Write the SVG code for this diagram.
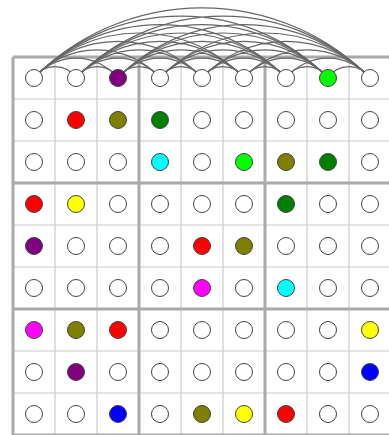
<svg xmlns="http://www.w3.org/2000/svg" width="389" height="435" viewBox="0 0 389 435">
<style>
.thin{stroke:#cccccc;stroke-width:1.2;fill:none}
.thick{stroke:#aaaaaa;stroke-width:3;fill:none}
.arc{stroke:#666666;stroke-width:1.2;fill:none}
.n{stroke:#444;stroke-width:1;fill:#fff}
</style>
<rect width="389" height="435" fill="#fff"/>
<g id="grid">
<path class="thin" d="M55 57V435M97 57V435M181 57V435M223 57V435M307 57V435M349 57V435M13 99H391M13 141H391M13 225H391M13 267H391M13 351H391M13 393H391"/>
<path class="thick" d="M13 57V435M139 57V435M265 57V435M391 57V435M13 57H391M13 183H391M13 309H391M13 435H391"/>
</g>
<g id="connectors">
<path class="arc" d="M34 78A25.04 25.04 0 0 1 76 78M76 78A25.04 25.04 0 0 1 118 78M118 78A25.04 25.04 0 0 1 160 78M160 78A25.04 25.04 0 0 1 202 78M202 78A25.04 25.04 0 0 1 244 78M244 78A25.04 25.04 0 0 1 286 78M286 78A25.04 25.04 0 0 1 328 78M328 78A25.04 25.04 0 0 1 370 78"/>
<path class="arc" d="M34 78A54.45 54.45 0 0 1 118 78M76 78A54.45 54.45 0 0 1 160 78M118 78A54.45 54.45 0 0 1 202 78M160 78A54.45 54.45 0 0 1 244 78M202 78A54.45 54.45 0 0 1 286 78M244 78A54.45 54.45 0 0 1 328 78M286 78A54.45 54.45 0 0 1 370 78"/>
<path class="arc" d="M34 78A84.47 84.47 0 0 1 160 78M76 78A84.47 84.47 0 0 1 202 78M118 78A84.47 84.47 0 0 1 244 78M160 78A84.47 84.47 0 0 1 286 78M202 78A84.47 84.47 0 0 1 328 78M244 78A84.47 84.47 0 0 1 370 78"/>
<path class="arc" d="M34 78A114.69 114.69 0 0 1 202 78M76 78A114.69 114.69 0 0 1 244 78M118 78A114.69 114.69 0 0 1 286 78M160 78A114.69 114.69 0 0 1 328 78M202 78A114.69 114.69 0 0 1 370 78"/>
<path class="arc" d="M34 78A145 145 0 0 1 244 78M76 78A145 145 0 0 1 286 78M118 78A145 145 0 0 1 328 78M160 78A145 145 0 0 1 370 78"/>
<path class="arc" d="M34 78A175.35 175.35 0 0 1 286 78M76 78A175.35 175.35 0 0 1 328 78M118 78A175.35 175.35 0 0 1 370 78"/>
<path class="arc" d="M34 78A205.73 205.73 0 0 1 328 78M76 78A205.73 205.73 0 0 1 370 78"/>
<path class="arc" d="M34 78A236.13 236.13 0 0 1 370 78"/>
</g>
<g id="nodes">
<g id="n00"><circle class="n" cx="34" cy="78" r="8.5"/></g>
<g id="n01"><circle class="n" cx="76" cy="78" r="8.5"/></g>
<g id="n02"><circle class="n" cx="118" cy="78" r="8.5" style="fill:#800080"/></g>
<g id="n03"><circle class="n" cx="160" cy="78" r="8.5"/></g>
<g id="n04"><circle class="n" cx="202" cy="78" r="8.5"/></g>
<g id="n05"><circle class="n" cx="244" cy="78" r="8.5"/></g>
<g id="n06"><circle class="n" cx="286" cy="78" r="8.5"/></g>
<g id="n07"><circle class="n" cx="328" cy="78" r="8.5" style="fill:#00ff00"/></g>
<g id="n08"><circle class="n" cx="370" cy="78" r="8.5"/></g>

<g id="n10"><circle class="n" cx="34" cy="120" r="8.5"/></g>
<g id="n11"><circle class="n" cx="76" cy="120" r="8.5" style="fill:#ff0000"/></g>
<g id="n12"><circle class="n" cx="118" cy="120" r="8.5" style="fill:#808000"/></g>
<g id="n13"><circle class="n" cx="160" cy="120" r="8.5" style="fill:#008000"/></g>
<g id="n14"><circle class="n" cx="202" cy="120" r="8.5"/></g>
<g id="n15"><circle class="n" cx="244" cy="120" r="8.5"/></g>
<g id="n16"><circle class="n" cx="286" cy="120" r="8.5"/></g>
<g id="n17"><circle class="n" cx="328" cy="120" r="8.5"/></g>
<g id="n18"><circle class="n" cx="370" cy="120" r="8.5"/></g>

<g id="n20"><circle class="n" cx="34" cy="162" r="8.5"/></g>
<g id="n21"><circle class="n" cx="76" cy="162" r="8.5"/></g>
<g id="n22"><circle class="n" cx="118" cy="162" r="8.5"/></g>
<g id="n23"><circle class="n" cx="160" cy="162" r="8.5" style="fill:#00ffff"/></g>
<g id="n24"><circle class="n" cx="202" cy="162" r="8.5"/></g>
<g id="n25"><circle class="n" cx="244" cy="162" r="8.5" style="fill:#00ff00"/></g>
<g id="n26"><circle class="n" cx="286" cy="162" r="8.5" style="fill:#808000"/></g>
<g id="n27"><circle class="n" cx="328" cy="162" r="8.5" style="fill:#008000"/></g>
<g id="n28"><circle class="n" cx="370" cy="162" r="8.5"/></g>

<g id="n30"><circle class="n" cx="34" cy="204" r="8.5" style="fill:#ff0000"/></g>
<g id="n31"><circle class="n" cx="76" cy="204" r="8.5" style="fill:#ffff00"/></g>
<g id="n32"><circle class="n" cx="118" cy="204" r="8.5"/></g>
<g id="n33"><circle class="n" cx="160" cy="204" r="8.5"/></g>
<g id="n34"><circle class="n" cx="202" cy="204" r="8.5"/></g>
<g id="n35"><circle class="n" cx="244" cy="204" r="8.5"/></g>
<g id="n36"><circle class="n" cx="286" cy="204" r="8.5" style="fill:#008000"/></g>
<g id="n37"><circle class="n" cx="328" cy="204" r="8.5"/></g>
<g id="n38"><circle class="n" cx="370" cy="204" r="8.5"/></g>

<g id="n40"><circle class="n" cx="34" cy="246" r="8.5" style="fill:#800080"/></g>
<g id="n41"><circle class="n" cx="76" cy="246" r="8.5"/></g>
<g id="n42"><circle class="n" cx="118" cy="246" r="8.5"/></g>
<g id="n43"><circle class="n" cx="160" cy="246" r="8.5"/></g>
<g id="n44"><circle class="n" cx="202" cy="246" r="8.5" style="fill:#ff0000"/></g>
<g id="n45"><circle class="n" cx="244" cy="246" r="8.5" style="fill:#808000"/></g>
<g id="n46"><circle class="n" cx="286" cy="246" r="8.5"/></g>
<g id="n47"><circle class="n" cx="328" cy="246" r="8.5"/></g>
<g id="n48"><circle class="n" cx="370" cy="246" r="8.5"/></g>

<g id="n50"><circle class="n" cx="34" cy="288" r="8.5"/></g>
<g id="n51"><circle class="n" cx="76" cy="288" r="8.5"/></g>
<g id="n52"><circle class="n" cx="118" cy="288" r="8.5"/></g>
<g id="n53"><circle class="n" cx="160" cy="288" r="8.5"/></g>
<g id="n54"><circle class="n" cx="202" cy="288" r="8.5" style="fill:#ff00ff"/></g>
<g id="n55"><circle class="n" cx="244" cy="288" r="8.5"/></g>
<g id="n56"><circle class="n" cx="286" cy="288" r="8.5" style="fill:#00ffff"/></g>
<g id="n57"><circle class="n" cx="328" cy="288" r="8.5"/></g>
<g id="n58"><circle class="n" cx="370" cy="288" r="8.5"/></g>

<g id="n60"><circle class="n" cx="34" cy="330" r="8.5" style="fill:#ff00ff"/></g>
<g id="n61"><circle class="n" cx="76" cy="330" r="8.5" style="fill:#808000"/></g>
<g id="n62"><circle class="n" cx="118" cy="330" r="8.5" style="fill:#ff0000"/></g>
<g id="n63"><circle class="n" cx="160" cy="330" r="8.5"/></g>
<g id="n64"><circle class="n" cx="202" cy="330" r="8.5"/></g>
<g id="n65"><circle class="n" cx="244" cy="330" r="8.5"/></g>
<g id="n66"><circle class="n" cx="286" cy="330" r="8.5"/></g>
<g id="n67"><circle class="n" cx="328" cy="330" r="8.5"/></g>
<g id="n68"><circle class="n" cx="370" cy="330" r="8.5" style="fill:#ffff00"/></g>

<g id="n70"><circle class="n" cx="34" cy="372" r="8.5"/></g>
<g id="n71"><circle class="n" cx="76" cy="372" r="8.5" style="fill:#800080"/></g>
<g id="n72"><circle class="n" cx="118" cy="372" r="8.5"/></g>
<g id="n73"><circle class="n" cx="160" cy="372" r="8.5"/></g>
<g id="n74"><circle class="n" cx="202" cy="372" r="8.5"/></g>
<g id="n75"><circle class="n" cx="244" cy="372" r="8.5"/></g>
<g id="n76"><circle class="n" cx="286" cy="372" r="8.5"/></g>
<g id="n77"><circle class="n" cx="328" cy="372" r="8.5"/></g>
<g id="n78"><circle class="n" cx="370" cy="372" r="8.5" style="fill:#0000ff"/></g>

<g id="n80"><circle class="n" cx="34" cy="414" r="8.5"/></g>
<g id="n81"><circle class="n" cx="76" cy="414" r="8.5"/></g>
<g id="n82"><circle class="n" cx="118" cy="414" r="8.5" style="fill:#0000ff"/></g>
<g id="n83"><circle class="n" cx="160" cy="414" r="8.5"/></g>
<g id="n84"><circle class="n" cx="202" cy="414" r="8.5" style="fill:#808000"/></g>
<g id="n85"><circle class="n" cx="244" cy="414" r="8.5" style="fill:#ffff00"/></g>
<g id="n86"><circle class="n" cx="286" cy="414" r="8.5" style="fill:#ff0000"/></g>
<g id="n87"><circle class="n" cx="328" cy="414" r="8.5"/></g>
<g id="n88"><circle class="n" cx="370" cy="414" r="8.5"/></g>
</g>
</svg>
